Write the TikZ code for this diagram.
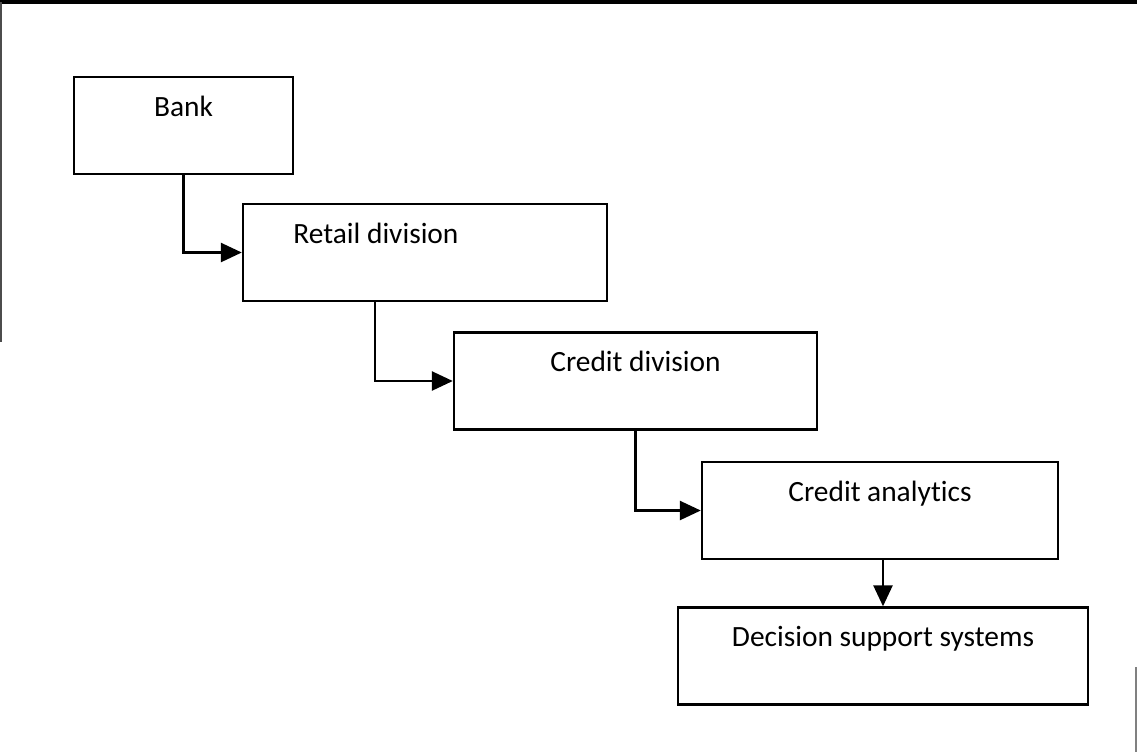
\documentclass[tikz,border=0pt]{standalone}
\usepackage{fontspec}
\setmainfont{Carlito}[Ligatures=NoCommon]
\usetikzlibrary{arrows.meta}

\tikzset{
	orgbox/.style={draw, line width=1.2pt, inner ysep=0pt, text height=19.5pt, text depth=29pt, font=\fontsize{14.7}{17}\selectfont},
	link/.style={line width=1.3pt, -{Triangle[length=10.5pt,width=9.5pt]}},
	edge/.style={line width=1.6pt}
}

\begin{document}
\begin{tikzpicture}[x=0.5pt, y=-0.5pt]
	\useasboundingbox (0,0) rectangle (1137,752);
	\coordinate (tl) at (0,2);
	\coordinate (tr) at (1137,2);
	\coordinate (lt) at (1,2);
	\coordinate (lb) at (1,342);
	\coordinate (rt) at (1136,667);
	\coordinate (rb) at (1136,752);

	\node at (183.5,125.5) [orgbox, minimum width=109.5pt] (bank) {Bank};
	\node at (425,252.5) [orgbox, minimum width=182pt] (retail) {Retail division\hspace*{49pt}};
	\node at (635.5,381) [orgbox, minimum width=181.5pt] (credit) {Credit division};
	\node at (880,510.5) [orgbox, minimum width=178pt] (analytics) {Credit analytics};
	\node at (883,656) [orgbox, minimum width=205pt] (dss) {Decision support systems};

	\draw [edge] (tl) -- (tr);
	\draw [line width=1.2pt, black!70] (lt) -- (lb);
	\draw [line width=0.6pt, black!50] (rt) -- (rb);

	\draw [link] (bank.south) |- (retail.west);
	\draw [link] ([xshift=-25pt]retail.south) |- (credit.west);
	\draw [link] (credit.south) |- (analytics.west);
	\draw [link] (dss.north |- analytics.south) -- (dss.north);
\end{tikzpicture}
\end{document}
